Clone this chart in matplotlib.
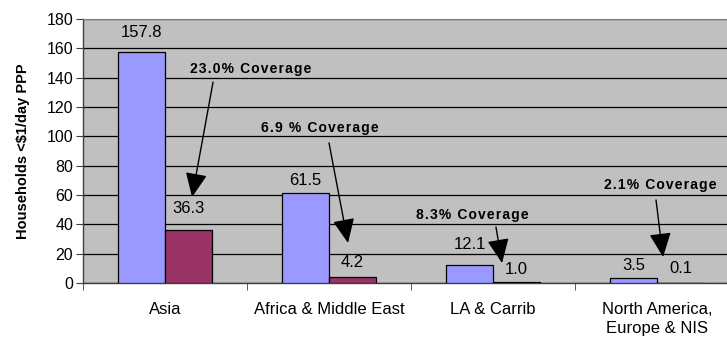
import matplotlib
matplotlib.use("Agg")
import matplotlib.pyplot as plt
import numpy as np

plt.rcParams['font.family'] = ['Liberation Sans', 'DejaVu Sans']

categories = ["Asia", "Africa & Middle East", "LA & Carrib", "North America,\nEurope & NIS"]
households = [157.8, 61.5, 12.1, 3.5]
covered = [36.3, 4.2, 1.0, 0.1]
coverage_labels = ["23.0% Coverage", "6.9 % Coverage", "8.3% Coverage", "2.1% Coverage"]
yticks = [0, 20, 40, 60, 80, 100, 120, 140, 160, 180]

# label offsets above bar tops (points) and annotation geometry (data coords)
hh_label_off = [14, 9, 15, 9]
cov_label_off = [15, 10, 9, 10]
cov_text_pos = [(0.524, 145.9), (0.945, 105.7), (1.872, 46.4), (3.018, 66.8)]
arrow_start = [(0.293, 137.0), (1.0, 95.5), (2.018, 38.2), (2.994, 56.6)]
arrow_tip = [(0.165, 58.6), (1.116, 27.3), (2.055, 13.6), (3.037, 17.7)]

W, H = 727, 339
fig = plt.figure(figsize=(W / 100, H / 100), dpi=100)
ax = fig.add_axes([83 / W, (H - 283) / H, 656 / W, 264 / H])
ax.set_facecolor('#C0C0C0')

x = np.arange(len(categories))
bw = 0.287
ax.bar(x - bw / 2, households, bw, color='#9999FF', edgecolor='black', linewidth=0.9, zorder=3)
ax.bar(x + bw / 2, covered, bw, color='#993366', edgecolor='black', linewidth=0.9, zorder=3)

for i in range(len(categories)):
    ax.annotate(f"{households[i]:.1f}", (x[i] - bw / 2, households[i]), xytext=(0, hh_label_off[i]),
                textcoords='offset points', ha='center', va='center', fontsize=12)
    ax.annotate(f"{covered[i]:.1f}", (x[i] + bw / 2, covered[i]), xytext=(0, cov_label_off[i]),
                textcoords='offset points', ha='center', va='center', fontsize=12)
    ax.annotate('', xy=arrow_tip[i], xytext=arrow_start[i],
                arrowprops=dict(arrowstyle='-|>,head_length=1.0,head_width=0.45', mutation_scale=15,
                                color='black', lw=1.0, shrinkA=0, shrinkB=0), zorder=5)
    ax.text(cov_text_pos[i][0], cov_text_pos[i][1], '\u200a'.join(coverage_labels[i]),
            ha='center', va='center', fontsize=10, fontweight='bold', zorder=5)

ax.set_xlim(-0.5, 3.5)
ax.set_ylim(0, 180)
ax.set_yticks(yticks)
ax.set_yticklabels([str(t) for t in yticks], fontsize=11.5)
ax.yaxis.grid(True, color='black', linewidth=0.9, zorder=0)
ax.set_axisbelow(True)

ax.set_xticks(x)
ax.set_xticklabels(categories, fontsize=12, linespacing=1.3)
ax.set_xticks(np.arange(-0.5, 4.0, 1.0), minor=True)
ax.tick_params(axis='x', which='major', length=0, pad=14)
ax.tick_params(axis='x', which='minor', length=5, color='#404040')
ax.tick_params(axis='y', length=5, color='#404040', pad=2)

for s in ['left', 'bottom']:
    ax.spines[s].set_color('#404040')
    ax.spines[s].set_linewidth(1.0)
ax.spines['top'].set_color('#808080')
ax.spines['right'].set_visible(False)

ax.set_ylabel('Households <$1/day PPP', fontsize=10.5, fontweight='bold', labelpad=12)

fig.savefig('out.png', dpi=100)
